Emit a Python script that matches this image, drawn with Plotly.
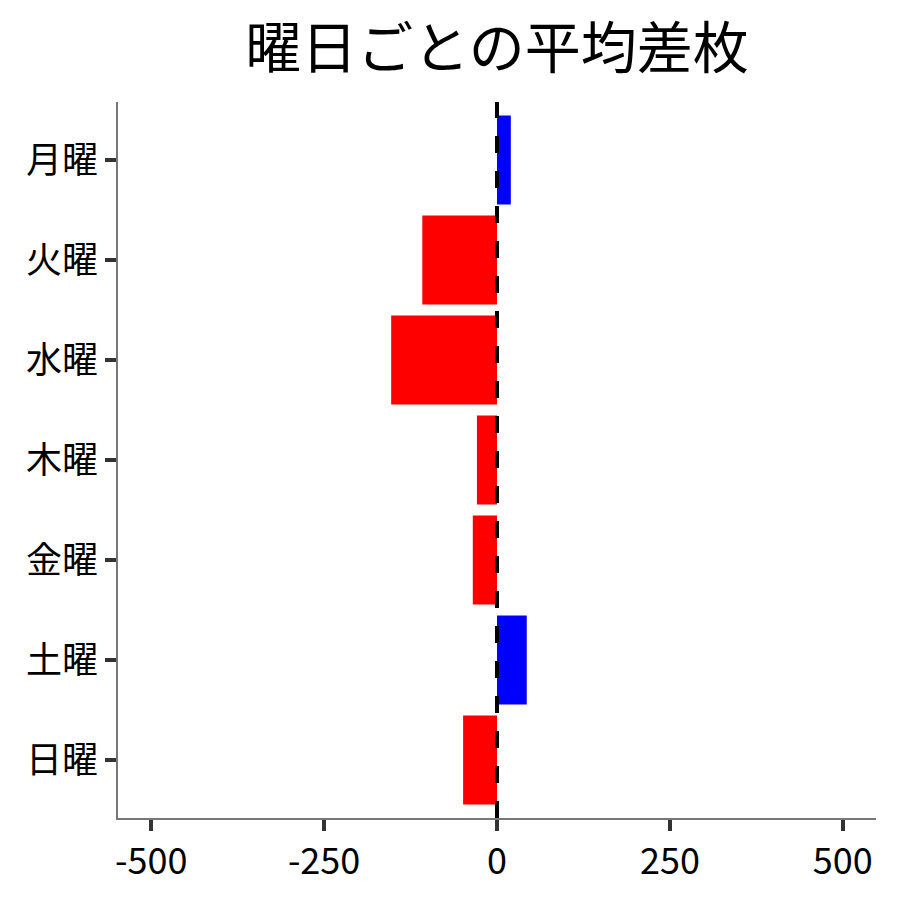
import plotly.graph_objects as go

# 曜日ごとの平均差枚
youbi = ['月曜', '火曜', '水曜', '木曜', '金曜', '土曜', '日曜']
heikin_samai = [20, -108, -153, -29, -35, 43, -49]
x_ticks = [-500, -250, 0, 250, 500]

iro = ['blue' if v > 0 else 'red' for v in heikin_samai]

fig = go.Figure()
fig.add_trace(go.Bar(
    x=heikin_samai, y=youbi, orientation='h',
    marker=dict(color=iro, line=dict(width=0)),
    width=0.89, showlegend=False,
))

# 0 の位置に点線
fig.add_shape(type='line', x0=0, x1=0, y0=0, y1=1, xref='x', yref='paper',
              line=dict(color='black', width=4, dash='17px,18px'))

fig.update_layout(
    width=900, height=900,
    paper_bgcolor='white', plot_bgcolor='white',
    font=dict(family='Noto Sans CJK JP', color='black', size=36),
    title=dict(text='曜日ごとの平均差枚', x=0.5, xref='paper', xanchor='center',
               y=0.955, yref='container', yanchor='middle', font=dict(size=56)),
    margin=dict(l=110, r=32, t=94, b=90),
)
fig.update_xaxes(
    range=[-548, 548], tickvals=x_ticks, ticktext=[str(v) for v in x_ticks],
    showgrid=False, zeroline=False, automargin=False,
    showline=True, linecolor='#777777', linewidth=1.5,
    ticks='outside', ticklen=11, tickwidth=3.5, tickcolor='#333333',
)
fig.update_yaxes(
    categoryorder='array', categoryarray=youbi, range=[6.58, -0.58],
    showgrid=False, zeroline=False, automargin=False,
    showline=True, linecolor='#777777', linewidth=1.5,
    ticks='outside', ticklen=11, tickwidth=3.5, tickcolor='#333333',
)

fig.write_html("out.html")
